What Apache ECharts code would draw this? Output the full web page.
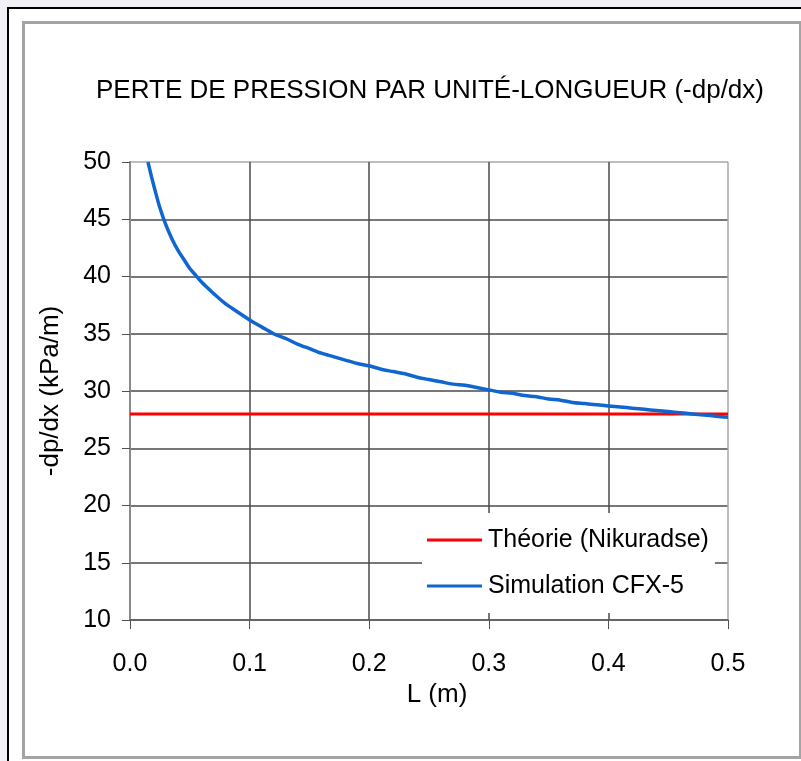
<!DOCTYPE html>
<html>
<head>
<meta charset="utf-8">
<script src="https://cdn.jsdelivr.net/npm/echarts@6/dist/echarts.min.js"></script>
<style>
html,body{margin:0;padding:0;background:#f0f0f6;}
#outer{position:absolute;left:7px;top:7px;width:800px;height:760px;border-left:2px solid #000;border-top:2px solid #000;background:#fff;}
#inner{position:absolute;left:22px;top:21px;width:774px;height:732px;border:3px solid #a4a4a4;}
#chart{position:absolute;left:0;top:0;width:801px;height:761px;}
</style>
</head>
<body>
<div id="outer"></div>
<div id="inner"></div>
<div id="chart"></div>
<script>
const titleText = 'PERTE DE PRESSION PAR UNITÉ-LONGUEUR (-dp/dx)';
const xAxisName = 'L (m)';
const yAxisName = '-dp/dx (kPa/m)';
const seriesNames = ['Théorie (Nikuradse)', 'Simulation CFX-5'];

// Theory: constant value across the length
const theoryL = [0.0, 0.5];
const theoryV = [28.0, 28.0];

// CFX-5 simulation
const simL = [0.015,0.018,0.021,0.025,0.030,0.035,0.040,0.045,0.050,0.055,0.060,0.065,0.070,0.080,0.090,0.100,
  0.110,0.120,0.130,0.140,0.150,0.160,0.170,0.180,0.190,0.200,0.210,0.220,0.230,0.240,0.250,0.260,0.270,0.280,
  0.290,0.300,0.310,0.320,0.330,0.340,0.350,0.360,0.370,0.380,0.390,0.400,0.410,0.420,0.430,0.440,0.450,0.460,
  0.470,0.480,0.490,0.500];
const simV = [50.0,48.7,47.5,46.0,44.5,43.3,42.3,41.5,40.7,40.1,39.5,39.0,38.5,37.6,36.9,36.2,
  35.6,35.0,34.6,34.1,33.7,33.3,33.0,32.7,32.4,32.2,31.9,31.7,31.5,31.2,31.0,30.8,30.6,30.5,
  30.3,30.1,29.9,29.8,29.6,29.5,29.3,29.2,29.0,28.9,28.8,28.7,28.6,28.5,28.4,28.3,28.2,28.1,
  28.0,27.9,27.8,27.7];

const font = 'Liberation Sans, Arial, sans-serif';
const dark = '#4a4a4a', light = '#a8a8a8';
const ySplitColors = [dark, dark, dark, dark, dark, dark, dark, dark, light];
const xSplitColors = [dark, dark, dark, dark, dark, light];

const chart = echarts.init(document.getElementById('chart'), null, {renderer: 'canvas'});
chart.setOption({
  backgroundColor: 'transparent',
  animation: false,
  title: {
    text: titleText, left: 425, top: 73, textAlign: 'center',
    textStyle: {fontFamily: font, fontSize: 26, fontWeight: 'normal', color: '#000'}
  },
  grid: {left: 130, right: 73, top: 162, bottom: 141, containLabel: false},
  legend: {
    orient: 'vertical', left: 422, top: 513,
    padding: [13, 6, 13, 5], itemGap: 18,
    itemWidth: 55, itemHeight: 3, icon: 'rect',
    backgroundColor: '#fff',
    textStyle: {fontFamily: font, fontSize: 25, color: '#000', lineHeight: 28, padding: [0,0,0,1]},
    data: seriesNames
  },
  xAxis: {
    type: 'value', min: 0, max: 0.5, interval: 0.1,
    name: xAxisName, nameLocation: 'middle', nameGap: 60,
    nameTextStyle: {fontFamily: font, fontSize: 26, color: '#000', padding: [0,0,0,16]},
    axisLine: {show: true, onZero: false, lineStyle: {color: '#606060', width: 1.5}},
    axisTick: {show: true, length: 9, lineStyle: {color: '#505050'}},
    axisLabel: {margin: 32, fontFamily: font, fontSize: 25, color: '#000', formatter: v => v.toFixed(1)},
    splitLine: {show: true, lineStyle: {color: xSplitColors, width: 1.5}}
  },
  yAxis: {
    type: 'value', min: 10, max: 50, interval: 5,
    name: yAxisName, nameLocation: 'middle', nameGap: 66, nameRotate: 90,
    nameTextStyle: {fontFamily: font, fontSize: 26, color: '#000'},
    axisLine: {show: true, lineStyle: {color: '#8a8a8a', width: 2}},
    axisTick: {show: true, length: 8, lineStyle: {color: '#505050'}},
    axisLabel: {margin: 19, fontFamily: font, fontSize: 25, color: '#000'},
    splitLine: {show: true, lineStyle: {color: ySplitColors, width: 1.5}}
  },
  series: [
    {
      name: seriesNames[0], type: 'line', showSymbol: false, symbol: 'none',
      data: theoryL.map((l, i) => [l, theoryV[i]]),
      lineStyle: {color: '#ff0000', width: 3}, itemStyle: {color: '#ff0000'}
    },
    {
      name: seriesNames[1], type: 'line', showSymbol: false, symbol: 'none', smooth: 0.3,
      data: simL.map((l, i) => [l, simV[i]]),
      lineStyle: {color: '#0f66d0', width: 3.5}, itemStyle: {color: '#0f66d0'}
    }
  ]
});
</script>
</body>
</html>
